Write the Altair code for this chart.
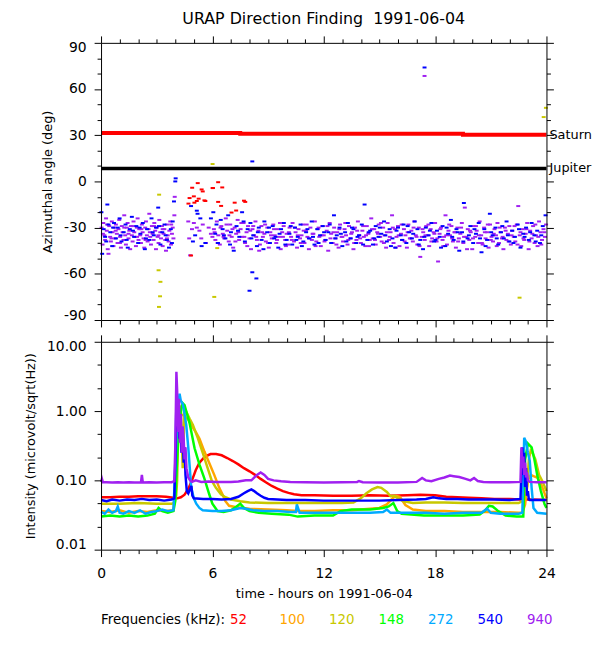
import altair as alt
import pandas as pd

FONT = "DejaVu Sans"

# ---------------- data ----------------
title_text = ["URAP Direction Finding \u00a01991-06-04"]
freqs = ["52", "100", "120", "148", "272", "540", "940"]
colors = ["#ff0000", "#ffa500", "#c8c800", "#00ff00", "#00aaff", "#0000ff", "#a020f0"]

hour_major = [0, 6, 12, 18, 24]
hour_minor = [1, 2, 3, 4, 5, 7, 8, 9, 10, 11, 13, 14, 15, 16, 17, 19, 20, 21, 22, 23]
ang_major = [-90, -60, -30, 0, 30, 60, 90]
ang_minor = [-80, -70, -50, -40, -20, -10, 10, 20, 40, 50, 70, 80]
int_major = [0.01, 0.1, 1, 10]
int_minor = [0.0215, 0.0464, 0.215, 0.464, 2.15, 4.64]

planet_names = ["Saturn", "Jupiter"]
saturn = [(0, 31.5), (7.5, 31.0), (19.5, 30.3), (24, 30.3)]
jupiter = [(0, 8.4), (24, 8.4)]

# direction-finding azimuths (hour, deg)
az940 = [(0.03,-30),(0.08,-41),(0.12,-27),(0.18,-35),(0.22,-38),(0.27,-24),(0.31,-32),(0.36,-44),(0.4,-47),(0.44,-29),
 (0.49,-36),(0.53,-39),(0.58,-26),(0.62,-33),(0.67,-42),(0.71,-30),(0.76,-37),(0.8,-28),(0.85,-34),(0.89,-40),
 (0.94,-31),(0.98,-25),(1.03,-36),(1.07,-43),(1.12,-29),(1.16,-33),(1.21,-38),(1.25,-22),(1.3,-35),(1.34,-41),
 (1.39,-30),(1.43,-27),(1.48,-37),(1.52,-32),(1.57,-44),(1.61,-29),(1.66,-35),(1.7,-39),(1.75,-26),(1.79,-33),
 (1.84,-36),(1.88,-42),(1.93,-30),(1.97,-24),(2.02,-38),(2.06,-31),(2.11,-35),(2.15,-40),(2.2,-28),(2.24,-33),
 (2.29,-37),(2.33,-43),(2.38,-30),(2.42,-26),(2.47,-35),(2.51,-39),(2.56,-31),(2.6,-21),(2.65,-36),(2.69,-41),
 (2.74,-29),(2.78,-34),(2.83,-38),(2.87,-27),(2.92,-32),(2.96,-44),(3.01,-30),(3.05,-36),(3.1,-40),(3.14,-25),
 (3.19,-33),(3.23,-37),(3.28,-29),(3.32,-42),(3.37,-34),(3.41,-31),(3.46,-38),(3.5,-45),(3.55,-28),(3.59,-35),
 (3.64,-39),(3.68,-32),(3.73,-26),(3.77,-41),(3.82,-34),(3.86,-30),(3.9,-37),(3.95,-22),(3.97,-10),
 (0.1,-34),(0.33,-28),(0.56,-37),(0.79,-32),(1.02,-40),(1.25,-30),(1.48,-34),(1.71,-29),(1.94,-36),(2.17,-31),
 (2.4,-38),(2.63,-33),(2.86,-29),(3.09,-35),(3.32,-31),(3.55,-37),(3.78,-28),
 (4.7,-26),(4.75,-37),(4.8,-48),(4.9,-31),(5.0,-27),(5.16,-30),(5.3,-32),(5.4,-37),(5.48,-28),(5.65,-40),
 (5.8,-30),(5.92,-34),(6.0,-36),
 (6.08,-31),(6.16,-38),(6.24,-26),(6.32,-35),(6.4,-41),(6.48,-29),(6.56,-34),(6.64,-37),(6.72,-24),(6.8,-32),
 (6.88,-39),(6.96,-28),(7.04,-36),(7.12,-43),(7.2,-30),(7.28,-34),(7.36,-25),(7.44,-38),(7.52,-31),(7.6,-36),
 (7.68,-27),(7.76,-40),(7.84,-33),(7.92,-29),(8.0,-37),(8.08,-44),(8.16,-31),(8.24,-35),(8.32,-26),(8.4,-38),
 (8.48,-32),(8.56,-41),(8.64,-29),(8.72,-36),(8.8,-34),(8.88,-39),(8.96,-30),(9.04,-43),(9.12,-33),(9.2,-37),
 (9.28,-28),(9.36,-35),(9.44,-40),(9.52,-31),(9.6,-36),(9.68,-44),(9.76,-33),(9.84,-29),(9.92,-38),(10.0,-34),
 (10.08,-41),(10.16,-30),(10.24,-36),(10.32,-27),(10.4,-39),(10.48,-33),(10.56,-43),(10.64,-31),(10.72,-37),(10.8,-35),
 (10.88,-28),(10.96,-40),(11.04,-32),(11.12,-36),(11.2,-44),(11.28,-30),(11.36,-38),(11.44,-34),(11.52,-26),(11.6,-39),
 (11.68,-31),(11.76,-36),(11.84,-42),(11.92,-29),(12.0,-35),(12.08,-38),(12.16,-32),(12.24,-45),(12.32,-27),(12.4,-34),
 (12.48,-40),(12.56,-30),(12.64,-37),(12.72,-33),(12.8,-43),(12.88,-28),(12.96,-36),(13.04,-39),(13.12,-31),(13.2,-35),
 (13.28,-41),(13.36,-29),(13.44,-37),(13.52,-33),(13.6,-44),(13.68,-30),(13.76,-38),(13.84,-26),(13.92,-35),(14.0,-40),
 (14.08,-32),(14.16,-36),(14.24,-42),(14.32,-29),(14.4,-34),(14.48,-38),(14.56,-24),(14.64,-37),(14.72,-31),(14.8,-41),
 (14.88,-33),(14.96,-28),(15.04,-36),(15.12,-39),(15.2,-30),(15.28,-35),(15.36,-43),(15.44,-27),(15.52,-38),(15.6,-33),
 (15.68,-22),(15.76,-40),(15.84,-31),(15.92,-36),(16.0,-29),(16.08,-42),(16.16,-34),(16.24,-38),(16.32,-31),(16.4,-35),
 (16.48,-43),(16.56,-28),(16.64,-37),(16.72,-32),(16.8,-39),(16.88,-26),(16.96,-35),(17.04,-41),(17.12,-30),(17.2,-49),
 (17.28,-36),(17.36,-33),(17.44,-38),(17.52,-29),(17.6,-35),(17.68,-42),(17.76,-31),(17.84,-37),(17.92,-33),(18.0,-27),
 (18.08,-39),(18.16,-52),(18.24,-34),(18.32,-30),(18.4,-38),(18.48,-36),(18.56,-22),(18.64,-41),(18.72,-32),(18.8,-35),
 (18.88,-29),(18.96,-39),(19.04,-33),(19.12,-43),(19.2,-30),(19.28,-37),(19.36,-34),(19.44,-27),(19.52,-40),(19.6,-17),
 (19.68,-36),(19.76,-31),(19.84,-38),(19.92,-33),(20.0,-44),(20.08,-29),(20.16,-36),(20.24,-32),(20.32,-40),(20.4,-26),
 (20.48,-35),(20.56,-41),(20.64,-30),(20.72,-37),(20.8,-33),(20.88,-43),(20.96,-28),(21.04,-36),(21.12,-39),(21.2,-31),
 (21.28,-35),(21.36,-27),(21.44,-40),(21.52,-33),(21.6,-37),(21.68,-44),(21.76,-30),(21.84,-38),(21.92,-34),(22.0,-29),
 (22.08,-41),(22.16,-32),(22.24,-36),(22.32,-39),(22.4,-28),(22.48,-16),(22.56,-35),(22.64,-42),(22.72,-31),(22.8,-38),
 (22.88,-34),(22.96,-27),(23.04,-44),(23.12,-32),(23.2,-37),(23.28,-29),(23.36,-40),(23.44,-35),(23.52,-42),(23.6,-26),
 (23.68,-33),(23.76,-38),(23.84,-31),(23.92,-36),(23.98,-28),(17.43,68.5),
 (6.12,-33),(6.28,-40),(6.44,-30),(6.6,-36),(6.76,-28),(6.92,-35),(7.08,-31),(7.24,-39),(7.4,-33),(7.56,-27),
 (7.72,-36),(7.88,-42),(8.04,-32),(8.2,-29),(8.36,-36),(8.52,-45),(8.68,-33),(8.84,-28),(9.0,-40),(9.16,-35),
 (9.32,-31),(9.48,-38),(9.64,-27),(9.8,-36),(9.96,-42),(10.12,-33),(10.28,-38),(10.44,-30),(10.6,-35),(10.76,-40),
 (10.92,-32),(11.08,-28),(11.24,-37),(11.4,-34),(11.56,-42),(11.72,-30),(11.88,-35),(12.04,-39),(12.2,-29),(12.36,-37),
 (12.52,-33),(12.68,-41),(12.84,-31),(13.0,-36),(13.16,-27),(13.32,-38),(13.48,-34),(13.64,-40),(13.8,-32),(13.96,-37),
 (14.12,-29),(14.28,-35),(14.44,-42),(14.6,-31),(14.76,-38),(14.92,-34),(15.08,-27),(15.24,-40),(15.4,-33),(15.56,-36),
 (15.72,-30),(15.88,-43),(16.04,-35),(16.2,-28),(16.36,-39),(16.52,-33),(16.68,-37),(16.84,-30),(17.0,-36),(17.16,-42),
 (17.32,-31),(17.48,-35),(17.64,-28),(17.8,-39),(17.96,-34),(18.12,-37),(18.28,-31),(18.44,-42),(18.6,-35),(18.76,-28),
 (18.92,-37),(19.08,-33),(19.24,-39),(19.4,-30),(19.56,-36),(19.72,-44),(19.88,-32),(20.04,-37),(20.2,-29),(20.36,-35),
 (20.52,-40),(20.68,-33),(20.84,-28),(21.0,-38),(21.16,-34),(21.32,-42),(21.48,-30),(21.64,-36),(21.8,-32),(21.96,-39),
 (22.12,-35),(22.28,-29),(22.44,-41),(22.6,-33),(22.76,-37),(22.92,-31),(23.08,-39),(23.24,-34),(23.4,-28),(23.56,-36),
 (23.72,-41),(23.88,-33)]

az540 = [(0.02,-20),(0.06,-47),(0.14,-31),(0.22,-36),(0.34,-15),(0.4,-28),(0.5,-33),(0.6,-42),(0.7,-27),(0.8,-37),
 (0.9,-30),(1.0,-24),(1.1,-39),(1.22,-33),(1.32,-28),(1.44,-43),(1.55,-31),(1.66,-23),(1.78,-36),(1.9,-29),
 (2.0,-40),(2.12,-34),(2.25,-27),(2.36,-44),(2.48,-31),(2.6,-38),(2.72,-24),(2.84,-35),(2.96,-30),(3.08,-17),
 (3.2,-41),(3.3,-33),(3.42,-28),(3.55,-38),(3.66,-43),(3.76,-31),(3.86,-26),(3.93,-13),(4.0,0),(4.02,2),
 (0.28,-39),(0.65,-30),(1.05,-35),(1.38,-38),(1.72,-32),(2.08,-30),(2.42,-37),(2.78,-33),(3.12,-29),(3.48,-35),(3.82,-40),
 (4.85,-16),(4.95,-39),(5.07,-35),(5.16,-19),(5.2,-21),(5.35,-24),(5.42,-42),(5.62,-40),(5.92,-24),
 (6.05,-20),(6.15,-34),(6.3,-40),(6.45,-25),(6.55,-31),(6.7,-37),(6.85,-22),(7.0,-33),(7.15,-45),(7.3,-29),
 (7.45,-36),(7.6,-20),(7.75,-39),(7.9,-31),(8.0,-71),(8.05,-27),(8.15,-59),(8.15,13),(8.2,-35),(8.37,-63),
 (8.4,-42),(8.5,-30),(8.65,-38),(8.8,-26),(8.95,-33),(9.1,-40),(9.25,-29),(9.4,-36),(9.55,-43),(9.7,-31),
 (9.85,-27),(10.0,-38),(10.15,-34),(10.3,-41),(10.45,-30),(10.6,-36),(10.75,-28),(10.9,-39),(11.05,-33),(11.2,-37),
 (11.35,-26),(11.5,-41),(11.65,-31),(11.8,-35),(11.95,-29),(12.1,-38),(12.25,-33),(12.4,-40),(12.55,-22),(12.7,-35),
 (12.85,-30),(13.0,-42),(13.15,-33),(13.3,-27),(13.45,-37),(13.6,-31),(13.75,-40),(13.9,-35),(14.05,-28),(14.2,-15),
 (14.35,-38),(14.5,-32),(14.65,-41),(14.8,-29),(14.95,-36),(15.1,-34),(15.25,-26),(15.4,-39),(15.55,-31),(15.7,-37),
 (15.85,-43),(16.0,-30),(16.15,-35),(16.3,-28),(16.45,-40),(16.6,-33),(16.75,-37),(16.9,-26),(17.05,-31),(17.2,-38),
 (17.35,-44),(17.43,74),(17.5,-30),(17.65,-35),(17.8,-27),(17.95,-39),(18.1,-32),(18.25,-36),(18.4,-29),(18.55,-42),
 (18.7,-34),(18.85,-25),(19.0,-38),(19.15,-31),(19.3,-45),(19.45,-33),(19.55,-14),(19.75,-37),(19.9,-29),(20.05,-40),
 (20.2,-34),(20.35,-27),(20.5,-46),(20.65,-31),(20.8,-38),(20.95,-21),(21.1,-35),(21.25,-30),(21.4,-41),(21.55,-33),
 (21.7,-37),(21.85,-26),(22.0,-39),(22.15,-32),(22.3,-36),(22.45,-28),(22.6,-43),(22.75,-34),(22.9,-30),(23.05,-38),
 (23.2,-27),(23.35,-35),(23.5,-32),(23.65,-40),(23.8,-29),(23.95,-22),
 (6.22,-28),(6.62,-35),(6.95,-41),(7.38,-32),(7.68,-26),(8.1,-37),(8.45,-33),(8.75,-44),(9.05,-30),(9.33,-37),
 (9.62,-34),(9.93,-41),(10.22,-29),(10.52,-38),(10.82,-42),(11.12,-31),(11.42,-36),(11.72,-40),(12.02,-33),(12.32,-28),
 (12.62,-37),(12.92,-34),(13.22,-39),(13.52,-30),(13.82,-36),(14.12,-41),(14.42,-33),(14.72,-37),(15.02,-30),(15.32,-35),
 (15.62,-42),(15.92,-32),(16.22,-38),(16.52,-29),(16.82,-34),(17.12,-41),(17.42,-36),(17.72,-32),(18.02,-38),(18.32,-43),
 (18.62,-30),(18.92,-36),(19.22,-33),(19.52,-39),(19.82,-35),(20.12,-31),(20.42,-37),(20.72,-42),(21.02,-33),(21.32,-37),
 (21.62,-29),(21.92,-35),(22.22,-40),(22.52,-31),(22.82,-36),(23.12,-33),(23.42,-39),(23.72,-35)]

az52 = [(5.21,-1.1),(4.91,-4.1),(5.42,-5.2),(5.48,-6.5),(6.01,-4.3),(5.0,-9.7),(4.77,-10.8),(5.26,-11.2),
 (5.16,-12.7),(5.03,-13.8),(4.71,-14.4),(5.57,-12.3),(5.62,-12.7),(4.85,-48.1),(6.31,-0.5),(6.03,-4.3),
 (6.53,-3.9),(6.31,-13.3),(6.47,-15.9),(7.2,-13.8),(7.77,-13.3),(7.7,-12.5),(7.28,-18.9),(7.03,-20.2)]

az120 = [(3.2,8.1),(3.13,-8.6),(3.1,-57.7),(3.2,-65.2),(3.18,-74.6),(3.12,-81.5),(6.01,11.3),(6.26,-43.3),
 (6.1,-75.0),(22.55,-75.5),(23.97,47.8),(23.85,41.8)]

# intensities (hour, microvolt/sqrt(Hz))
i52 = [(0,0.057),(0.5,0.057),(1.0,0.058),(1.5,0.058),(2.0,0.059),(2.5,0.059),(3.0,0.059),(3.5,0.058),(3.9,0.056),
 (4.1,0.055),(4.3,0.057),(4.5,0.062),(4.7,0.075),(4.9,0.10),(5.1,0.14),(5.3,0.18),(5.6,0.22),(5.9,0.24),(6.2,0.24),
 (6.5,0.23),(6.8,0.21),(7.1,0.19),(7.4,0.17),(7.7,0.15),(8.0,0.135),(8.3,0.12),(8.6,0.105),(8.9,0.093),(9.2,0.083),
 (9.5,0.076),(9.8,0.07),(10.1,0.066),(10.4,0.063),(10.8,0.061),(11.5,0.061),(12.5,0.06),(13.5,0.06),(14.5,0.061),
 (15.5,0.06),(16.5,0.061),(17.2,0.062),(18.0,0.061),(18.6,0.058),(19.2,0.057),(19.8,0.056),(20.5,0.055),(21.2,0.054),
 (22.0,0.054),(22.6,0.053),(23.2,0.053),(24,0.052)]
i100 = [(0,0.036),(0.5,0.035),(1,0.037),(1.5,0.034),(2,0.036),(2.5,0.035),(3,0.037),(3.5,0.036),(3.9,0.037),
 (4.05,0.1),(4.15,0.5),(4.3,0.9),(4.5,0.85),(4.7,0.75),(4.9,0.6),(5.1,0.5),(5.3,0.4),(5.57,0.26),(5.83,0.178),
 (6.1,0.12),(6.37,0.078),(6.54,0.063),(6.7,0.05),(6.9,0.043),(7.3,0.041),(8,0.039),(9,0.038),(10,0.037),(10.6,0.036),
 (11.5,0.036),(12.5,0.037),(13.5,0.037),(14.0,0.038),(14.5,0.039),(15.0,0.04),(15.4,0.045),(15.7,0.055),(15.9,0.06),
 (16.1,0.058),(16.4,0.044),(16.8,0.038),(17.5,0.036),(18.5,0.036),(19.5,0.035),(20.5,0.035),(21.5,0.035),(22.5,0.034),
 (22.7,0.034),(22.85,0.045),(23.0,0.1),(23.15,0.12),(23.3,0.115),(23.5,0.11),(23.7,0.09),(23.9,0.065),(24,0.055)]
i120 = [(0,0.046),(1,0.046),(2,0.047),(3,0.046),(3.8,0.046),(3.95,0.047),(4.05,0.06),(4.1,0.1),(4.15,0.4),(4.2,0.9),
 (4.3,1.2),(4.4,0.15),(4.5,1.1),(4.77,0.78),(4.95,0.63),(5.21,0.41),(5.48,0.25),(5.74,0.151),(5.97,0.098),
 (6.19,0.078),(6.46,0.063),(6.7,0.057),(7.0,0.053),(7.5,0.05),(8.0,0.048),(9.0,0.047),(10,0.047),(11,0.047),
 (12,0.047),(13,0.047),(13.6,0.048),(14.0,0.055),(14.3,0.065),(14.6,0.074),(14.9,0.08),(15.1,0.078),(15.4,0.068),
 (15.6,0.059),(15.8,0.06),(16.0,0.055),(16.3,0.05),(16.8,0.047),(17.5,0.048),(18.5,0.048),(19.5,0.047),(20.5,0.047),
 (21.5,0.047),(22.5,0.047),(22.7,0.05),(22.85,0.15),(22.95,0.08),(23.05,0.2),(23.15,0.27),(23.25,0.25),(23.4,0.2),
 (23.6,0.12),(23.8,0.095),(24,0.07)]
i148 = [(0,0.030),(0.5,0.031),(1,0.030),(1.5,0.031),(2,0.030),(2.5,0.031),(2.9,0.033),(3.1,0.04),(3.3,0.036),
 (3.6,0.034),(3.9,0.036),(4.0,0.05),(4.1,0.2),(4.2,0.6),(4.3,1.0),(4.4,1.3),(4.5,1.22),(4.77,0.67),(5.04,0.29),
 (5.3,0.17),(5.57,0.106),(5.83,0.063),(6.0,0.046),(6.28,0.036),(6.6,0.035),(7.0,0.037),(7.3,0.042),(7.5,0.046),
 (7.7,0.04),(8.0,0.036),(8.5,0.034),(9.2,0.033),(10.1,0.032),(10.6,0.030),(11.5,0.031),(12.5,0.031),(12.9,0.036),
 (13.5,0.038),(14.5,0.038),(15.2,0.04),(15.5,0.042),(15.75,0.047),(15.96,0.036),(16.2,0.033),(17.4,0.031),
 (18.5,0.031),(19.5,0.031),(20.4,0.032),(20.7,0.037),(20.9,0.043),(21.1,0.042),(21.4,0.036),(21.8,0.031),
 (22.4,0.030),(22.75,0.03),(22.85,0.2),(23.0,0.34),(23.2,0.3),(23.35,0.2),(23.5,0.12),(23.7,0.07),(23.9,0.045),(24,0.04)]
i272 = [(0,0.035),(0.2,0.033),(0.4,0.038),(0.6,0.034),(0.8,0.036),(0.9,0.042),(1.0,0.034),(1.2,0.033),(1.5,0.036),
 (1.8,0.034),(2.1,0.037),(2.4,0.033),(2.7,0.035),(3.0,0.036),(3.3,0.038),(3.6,0.036),(3.9,0.037),(4.0,0.15),
 (4.1,0.8),(4.2,1.5),(4.23,1.78),(4.3,1.4),(4.41,1.26),(4.5,0.9),(4.59,0.63),(4.7,0.3),(4.86,0.078),(5.0,0.055),
 (5.13,0.046),(5.3,0.04),(5.48,0.037),(6.0,0.036),(6.5,0.036),(7.0,0.037),(7.5,0.04),(7.8,0.039),(8.2,0.037),
 (8.8,0.036),(9.5,0.036),(10.2,0.035),(10.5,0.035),(10.55,0.045),(10.7,0.034),(11.5,0.034),(12.5,0.034),
 (13.5,0.034),(14.5,0.034),(15.2,0.035),(15.4,0.038),(15.6,0.034),(16.5,0.034),(17.5,0.034),(18.5,0.033),
 (19.5,0.034),(20.5,0.034),(20.8,0.039),(21.0,0.034),(21.5,0.033),(22.5,0.033),(22.7,0.034),(22.8,0.41),
 (22.9,0.36),(23.0,0.25),(23.1,0.19),(23.2,0.078),(23.3,0.04),(23.5,0.034),(24,0.033)]
i540 = [(0,0.052),(0.3,0.05),(0.6,0.053),(1.0,0.051),(1.4,0.053),(1.8,0.052),(2.2,0.054),(2.6,0.052),(3.0,0.053),
 (3.4,0.051),(3.8,0.053),(3.95,0.055),(4.02,0.3),(4.07,2.0),(4.12,0.6),(4.17,1.3),(4.22,0.4),(4.28,0.9),(4.33,0.25),
 (4.4,0.5),(4.45,0.18),(4.5,0.3),(4.55,0.12),(4.62,0.07),(4.7,0.065),(4.8,0.075),(4.87,0.083),(4.92,0.06),
 (5.0,0.055),(5.5,0.054),(6.0,0.054),(6.5,0.053),(7.0,0.054),(7.4,0.058),(7.7,0.065),(7.9,0.07),(8.1,0.074),
 (8.25,0.07),(8.4,0.065),(8.6,0.06),(8.8,0.056),(9.0,0.054),(9.5,0.053),(10,0.052),(11,0.052),(12,0.051),
 (13,0.051),(14,0.051),(15,0.051),(16,0.052),(17,0.053),(17.5,0.054),(17.9,0.057),(18.2,0.055),(18.6,0.054),
 (19.2,0.054),(19.8,0.053),(20.5,0.053),(21.2,0.053),(22.0,0.052),(22.6,0.054),(22.7,0.3),(22.75,0.12),(22.8,0.25),
 (22.85,0.08),(22.9,0.15),(22.95,0.06),(23.0,0.07),(23.05,0.053),(23.1,0.052),(23.3,0.052),(24,0.052)]
i940 = [(0,0.095),(0.05,0.105),(0.1,0.094),(0.3,0.094),(0.6,0.093),(0.9,0.094),(1.2,0.093),(1.5,0.094),(1.8,0.093),
 (2.15,0.093),(2.2,0.12),(2.25,0.093),(2.6,0.094),(3.0,0.093),(3.4,0.094),(3.8,0.094),(3.95,0.097),(4.0,0.3),
 (4.03,1.0),(4.06,3.7),(4.1,2.0),(4.13,0.8),(4.17,0.5),(4.2,1.5),(4.25,0.35),(4.3,0.9),(4.35,0.25),(4.4,0.6),
 (4.45,0.4),(4.5,0.2),(4.55,0.3),(4.6,0.15),(4.7,0.11),(4.8,0.1),(4.9,0.095),(5.1,0.1),(5.4,0.095),(5.8,0.096),
 (6.2,0.095),(6.6,0.095),(7.0,0.095),(7.4,0.096),(7.8,0.1),(8.1,0.1),(8.4,0.12),(8.6,0.13),(8.8,0.12),(9.0,0.105),
 (9.3,0.1),(9.7,0.097),(10.2,0.095),(11,0.094),(12,0.093),(13,0.094),(13.8,0.095),(13.9,0.098),(14.1,0.094),
 (15,0.093),(16,0.093),(17,0.095),(17.3,0.108),(17.5,0.1),(17.8,0.097),(18.2,0.105),(18.5,0.11),(18.8,0.117),
 (19.0,0.115),(19.3,0.112),(19.6,0.106),(19.9,0.1),(20.1,0.108),(20.3,0.098),(20.6,0.095),(21.0,0.094),(22.0,0.094),
 (22.6,0.095),(22.65,0.3),(22.7,0.15),(22.75,0.22),(22.8,0.12),(22.85,0.18),(22.9,0.11),(22.95,0.13),(23.0,0.1),
 (23.1,0.095),(23.5,0.094),(24,0.094)]

# ---------------- helpers ----------------
def frame(pairs):
    return pd.DataFrame(pairs, columns=["t", "v"])

XS = alt.Scale(domain=[0, 24], nice=False, zero=False)
YA = alt.Scale(domain=[-90, 90], nice=False, zero=False)
YI = alt.Scale(type="log", domain=[0.01, 10], nice=False)

AX = dict(grid=False, tickColor="black", domainColor="black", tickWidth=1, domainWidth=1,
          labelColor="black", titleColor="black", labelFont=FONT, titleFont=FONT,
          labelFontSize=14, titleFontSize=13, titleFontWeight="normal", zindex=1)


def major(orient, values, labels=False, title=None, expr="'' + datum.value", pad=8, flush=False, tpad=9):
    kw = dict(AX)
    kw.update(orient=orient, values=values, tickSize=7, labels=labels, domain=True,
              labelPadding=pad, labelFlush=flush, title=title, titlePadding=tpad)
    if labels:
        kw["labelExpr"] = expr
    if flush:
        kw["labelFlushOffset"] = 2
    return alt.Axis(**kw)


def minor(orient, values):
    kw = dict(AX)
    kw.update(orient=orient, values=values, tickSize=4, labels=False, domain=False, title=None)
    return alt.Axis(**kw)


DASH = "M-1,-0.5L1,-0.5L1,0.5L-1,0.5Z"


def scatter(pairs, color, xa, ya):
    return alt.Chart(frame(pairs)).mark_point(
        shape=DASH, filled=True, size=16, color=color, opacity=1, strokeWidth=0
    ).encode(x=alt.X("t:Q", scale=XS, axis=xa), y=alt.Y("v:Q", scale=YA, axis=ya))


def curve(pairs, color, xa, ya):
    return alt.Chart(frame(pairs)).mark_line(color=color, strokeWidth=2.5).encode(
        x=alt.X("t:Q", scale=XS, axis=xa), y=alt.Y("v:Q", scale=YI, axis=ya))


col = dict(zip(freqs, colors))

# ---------------- top panel ----------------
top_layers = [
    scatter(az120, col["120"], major("bottom", hour_major),
            major("left", ang_major, labels=True, title="Azimuthal angle (deg)", flush=True)),
    scatter(az940, col["940"], minor("bottom", hour_minor), minor("left", ang_minor)),
    scatter(az540, col["540"], major("top", hour_major), major("right", ang_major)),
    scatter(az52, col["52"], minor("top", hour_minor), minor("right", ang_minor)),
    alt.Chart(frame(saturn)).mark_line(color="#ff0000", strokeWidth=4, interpolate="step-after").encode(
        x=alt.X("t:Q", scale=XS, axis=None), y=alt.Y("v:Q", scale=YA, axis=None)),
    alt.Chart(frame(jupiter)).mark_line(color="black", strokeWidth=3.5).encode(
        x=alt.X("t:Q", scale=XS, axis=None), y=alt.Y("v:Q", scale=YA, axis=None)),
]
planet_df = pd.DataFrame({"t": [saturn[-1][0], jupiter[-1][0]],
                          "v": [saturn[-1][1], jupiter[-1][1]],
                          "name": planet_names})
top_layers.append(
    alt.Chart(planet_df).mark_text(align="left", baseline="middle", dx=3, font=FONT, fontSize=13,
                                   color="black").encode(
        x=alt.X("t:Q", scale=XS, axis=None), y=alt.Y("v:Q", scale=YA, axis=None), text="name:N"))
# chart heading, centred over the plot area
top_layers.append(
    alt.Chart(pd.DataFrame({"s": title_text})).mark_text(
        align="center", baseline="alphabetic", font=FONT, fontSize=16, color="black").encode(
        x=alt.value(225), y=alt.value(-19), text="s:N"))

top = alt.layer(*top_layers).resolve_axis(x="independent", y="independent").properties(
    width=450, height=280)

# ---------------- bottom panel ----------------
bottom_layers = [
    curve(i52, col["52"],
          major("bottom", hour_major, labels=True, title="time - hours on 1991-06-04", pad=10, tpad=7),
          major("left", int_major, labels=True, title="Intensity (microvolt/sqrt(Hz))",
                expr="format(datum.value, '.2f')", flush=True)),
    curve(i100, col["100"], minor("bottom", hour_minor), minor("left", int_minor)),
    curve(i120, col["120"], major("top", hour_major), major("right", int_major)),
    curve(i148, col["148"], minor("top", hour_minor), minor("right", int_minor)),
    curve(i272, col["272"], None, None),
    curve(i540, col["540"], None, None),
    curve(i940, col["940"], None, None),
]
bottom = alt.layer(*bottom_layers).resolve_axis(x="independent", y="independent").properties(
    width=450, height=210)

# ---------------- frequency key ----------------
key_df = pd.DataFrame({"f": freqs, "c": colors})
key_title = alt.Chart(pd.DataFrame({"s": ["Frequencies (kHz):"]})).mark_text(
    align="left", baseline="middle", font=FONT, fontSize=13.5, color="black").encode(
    x=alt.value(0), y=alt.value(14), text="s:N")
key_nums = alt.Chart(key_df).mark_text(
    align="left", baseline="middle", font=FONT, fontSize=13.5).encode(
    x=alt.X("f:N", scale=alt.Scale(domain=freqs, range=[130.3, 430.3], padding=0), axis=None),
    y=alt.value(14), text="f:N", color=alt.Color("c:N", scale=None))
key = alt.layer(key_title, key_nums).properties(width=450, height=24)

chart = alt.vconcat(top, bottom, key, spacing=6).properties(
    padding={"left": 16, "top": 0, "right": 0, "bottom": 0}
).configure_view(strokeWidth=0)

chart.save("out.html", embed_options={"renderer": "svg", "actions": False})
